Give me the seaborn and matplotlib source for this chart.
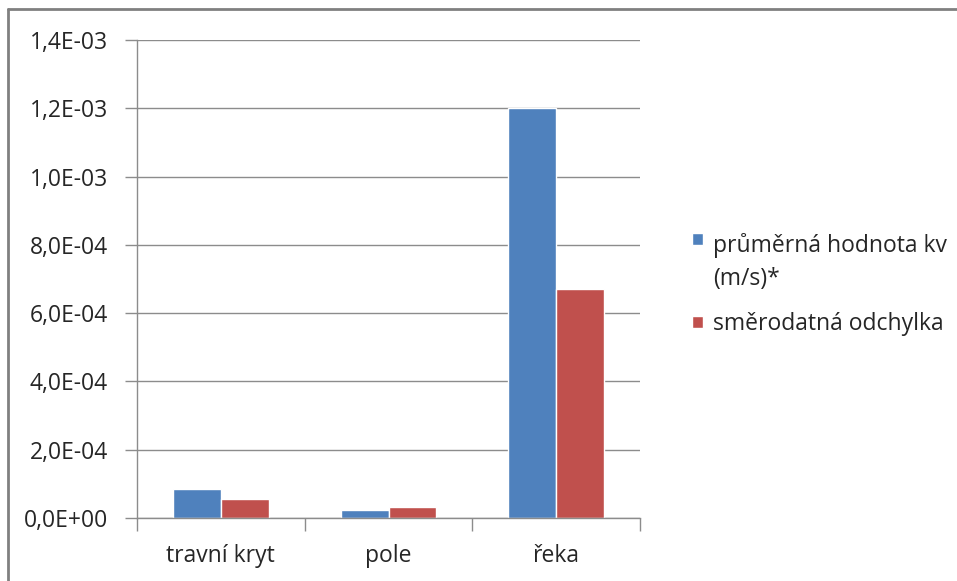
import numpy as np
import pandas as pd
import matplotlib.pyplot as plt
import seaborn as sns
from matplotlib.lines import Line2D
from matplotlib.ticker import FuncFormatter

# Data
categories = ["travní kryt", "pole", "řeka"]
series_names = ["průměrná hodnota kv\n(m/s)*", "směrodatná odchylka"]
mean_values = [8.4e-05, 2.3e-05, 1.2e-03]
std_values = [5.7e-05, 3.1e-05, 6.7e-04]
colors = ["#4F81BD", "#C0504D"]

df = pd.DataFrame({
    "kategorie": categories * 2,
    "serie": [series_names[0]] * 3 + [series_names[1]] * 3,
    "hodnota": mean_values + std_values,
})

sns.set_theme(style="white")
plt.rcParams["font.family"] = ["Open Sans", "DejaVu Sans"]

fs = 16.5
fig = plt.figure(figsize=(9.57, 5.81), dpi=100)
ax = fig.add_axes([137 / 957, 1 - 518 / 581, (640 - 137) / 957, (518 - 40) / 581])

sns.barplot(data=df, x="kategorie", y="hodnota", hue="serie",
            palette=colors, width=0.572, saturation=1, ax=ax)

ax.set_ylim(0, 1.4e-03)
ax.set_xlim(-0.5, 2.5)
ax.set_yticks(np.arange(0, 1.41e-03, 2e-04))
ax.yaxis.set_major_formatter(
    FuncFormatter(lambda v, p: f"{v:.1E}".replace(".", ",")))
ax.yaxis.grid(True, color="#8c8c8c", linewidth=1)
ax.set_axisbelow(True)
ax.set_xlabel("")
ax.set_ylabel("")

for side in ["top", "right"]:
    ax.spines[side].set_visible(False)
for side in ["left", "bottom"]:
    ax.spines[side].set_color("#8c8c8c")
    ax.spines[side].set_linewidth(1)

ax.tick_params(axis="y", which="both", left=True, length=9, width=1,
               color="#8c8c8c", labelsize=fs, labelcolor="#262626", pad=12)
ax.tick_params(axis="x", bottom=False, labelsize=fs, labelcolor="#262626", pad=13)
# category separator ticks below the axis
ax.set_xticks([-0.5, 0.5, 1.5, 2.5], minor=True)
ax.tick_params(axis="x", which="minor", bottom=True, length=9, width=1,
               color="#8c8c8c", direction="out")

handles, labels = ax.get_legend_handles_labels()
if ax.get_legend():
    ax.get_legend().remove()
leg = fig.legend(handles, labels, loc="upper left",
                 bbox_to_anchor=(681 / 957, 1 - 222 / 581),
                 frameon=False, fontsize=fs, handlelength=0.45, handleheight=0.45,
                 handletextpad=0.45, labelspacing=0.95, borderpad=0,
                 labelcolor="#262626")
for t in leg.get_texts():
    t.set_linespacing(1.45)
# put the first marker beside the first line of its two-line label
first = leg.legend_handles[0]
first.set_y(first.get_y() + 17)

# outer chart frame (top and left edges visible)
fig.add_artist(Line2D([8 / 957, 1], [1 - 9 / 581, 1 - 9 / 581],
                      transform=fig.transFigure, color="#808080", linewidth=2))
fig.add_artist(Line2D([8 / 957, 8 / 957], [0, 1 - 9 / 581],
                      transform=fig.transFigure, color="#808080", linewidth=2))

fig.savefig("out.png", dpi=100)
